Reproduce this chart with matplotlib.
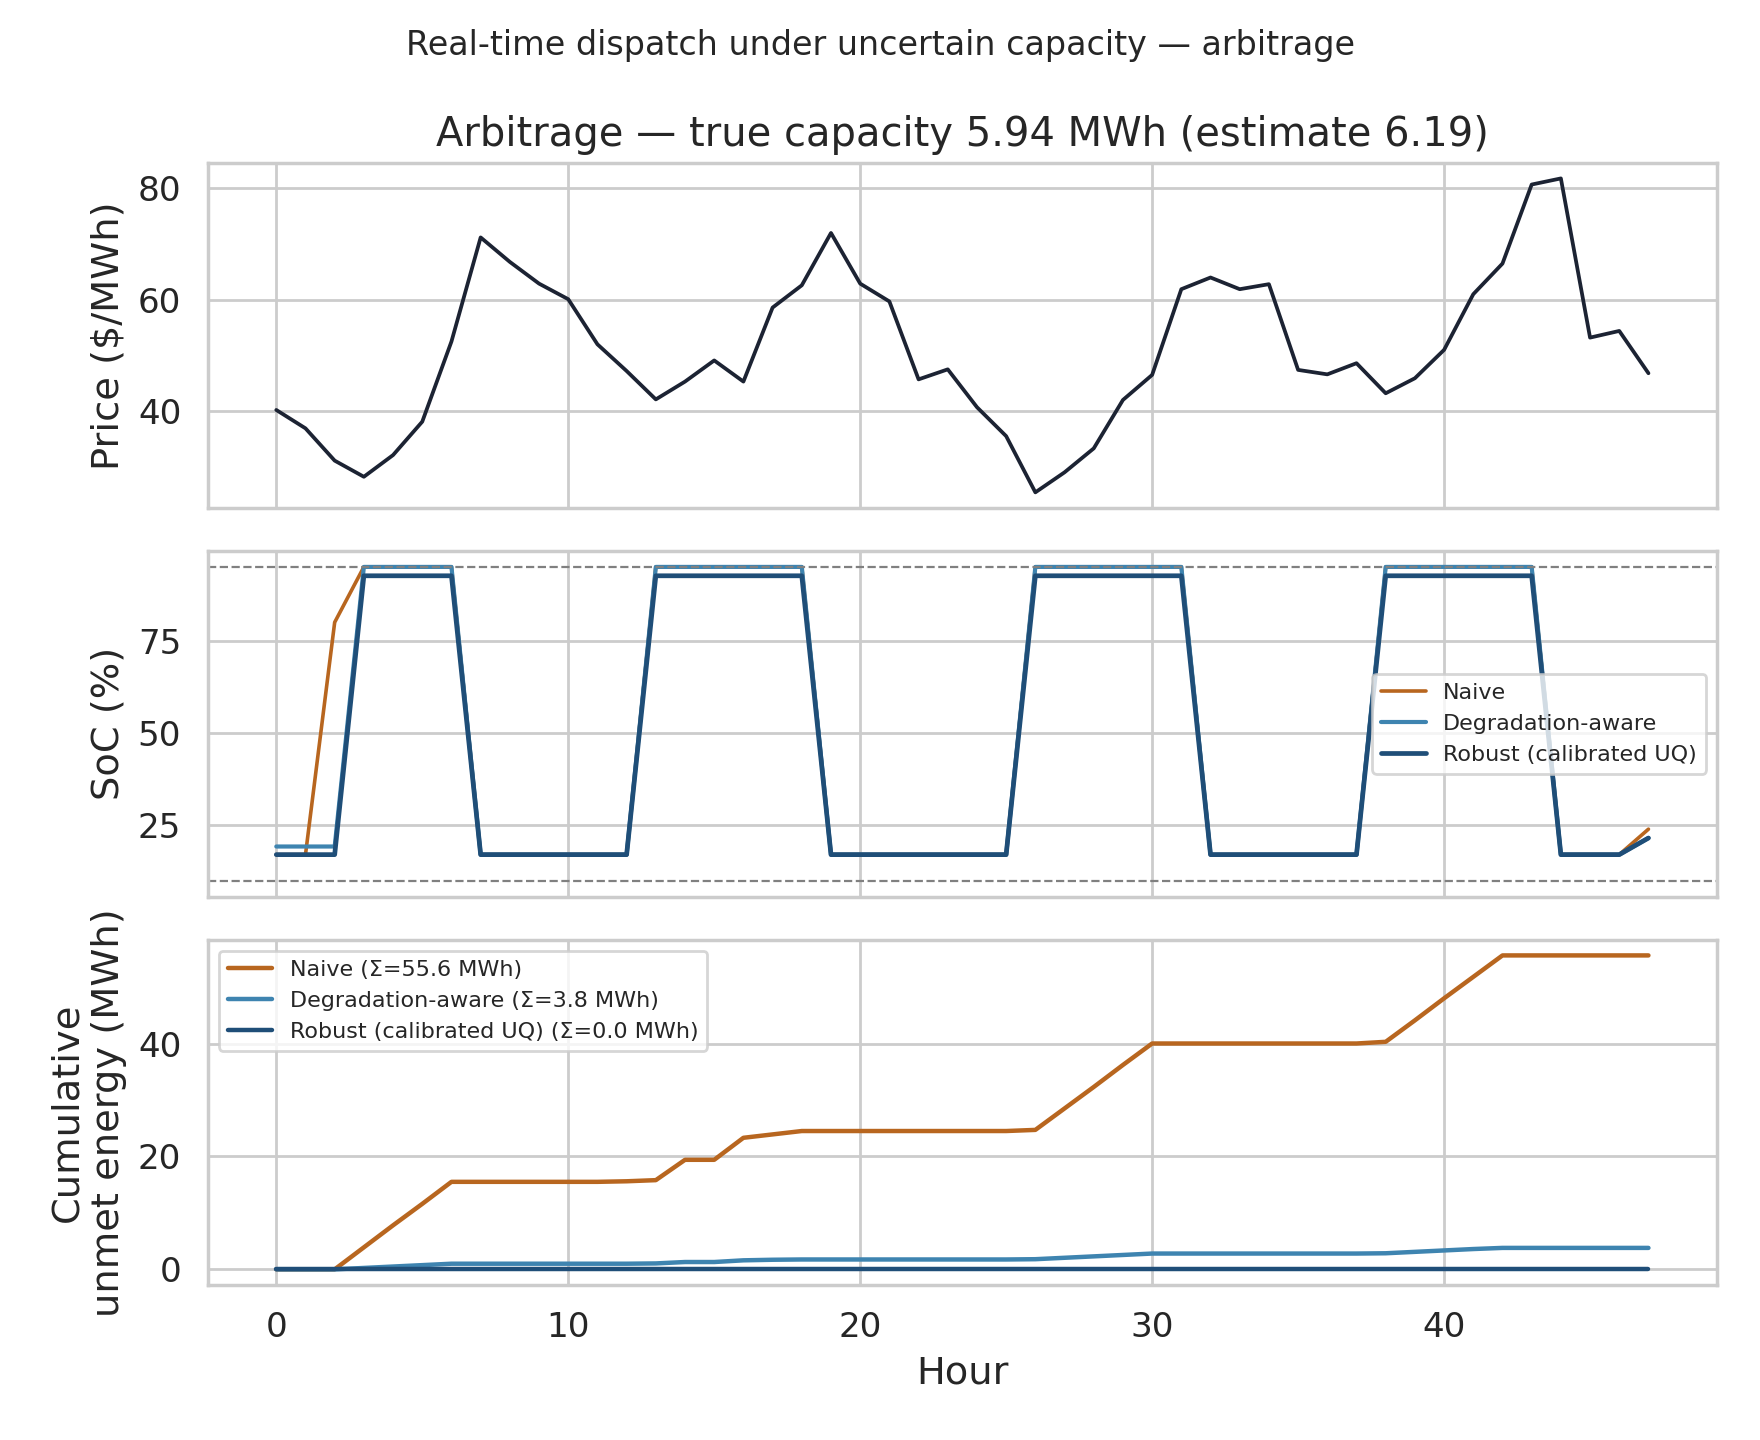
import numpy as np
import matplotlib
matplotlib.use("Agg")
import matplotlib.pyplot as plt
from matplotlib.ticker import MultipleLocator
import seaborn as sns

hours = list(range(48))

price = [40.2, 36.9, 31.1, 28.2, 32.1, 38.1, 52.5, 71.2, 66.8, 62.9,
         60.1, 52.0, 47.2, 42.1, 45.3, 49.1, 45.3, 58.6, 62.6, 72.0,
         62.9, 59.7, 45.7, 47.5, 40.7, 35.5, 25.4, 29.0, 33.3, 42.0,
         46.5, 61.9, 64.0, 61.9, 62.8, 47.4, 46.6, 48.6, 43.2, 45.9,
         51.0, 61.0, 66.5, 80.7, 81.8, 53.2, 54.4, 46.8]

soc_naive = [17.1, 17.1, 80.0, 95.0, 95.0, 95.0, 95.0, 17.1, 17.1, 17.1,
             17.1, 17.1, 17.1, 95.0, 95.0, 95.0, 95.0, 95.0, 95.0, 17.1,
             17.1, 17.1, 17.1, 17.1, 17.1, 17.1, 95.0, 95.0, 95.0, 95.0,
             95.0, 95.0, 17.1, 17.1, 17.1, 17.1, 17.1, 17.1, 95.0, 95.0,
             95.0, 95.0, 95.0, 95.0, 17.1, 17.1, 17.1, 24.0]
soc_degr = [19.3, 19.3, 19.3, 95.0, 95.0, 95.0, 95.0, 17.1, 17.1, 17.1,
            17.1, 17.1, 17.1, 95.0, 95.0, 95.0, 95.0, 95.0, 95.0, 17.1,
            17.1, 17.1, 17.1, 17.1, 17.1, 17.1, 95.0, 95.0, 95.0, 95.0,
            95.0, 95.0, 17.1, 17.1, 17.1, 17.1, 17.1, 17.1, 95.0, 95.0,
            95.0, 95.0, 95.0, 95.0, 17.1, 17.1, 17.1, 21.6]
soc_robust = [17.1, 17.1, 17.1, 92.6, 92.6, 92.6, 92.6, 17.1, 17.1, 17.1,
              17.1, 17.1, 17.1, 92.6, 92.6, 92.6, 92.6, 92.6, 92.6, 17.1,
              17.1, 17.1, 17.1, 17.1, 17.1, 17.1, 92.6, 92.6, 92.6, 92.6,
              92.6, 92.6, 17.1, 17.1, 17.1, 17.1, 17.1, 17.1, 92.6, 92.6,
              92.6, 92.6, 92.6, 92.6, 17.1, 17.1, 17.1, 21.6]
soc_min, soc_max = 10, 95

unmet_naive = [0.0, 0.0, 0.0, 3.9, 7.8, 11.6, 15.5, 15.5, 15.5, 15.5,
               15.5, 15.5, 15.6, 15.8, 19.4, 19.4, 23.3, 23.9, 24.5, 24.5,
               24.5, 24.5, 24.5, 24.5, 24.5, 24.5, 24.7, 28.5, 32.3, 36.2,
               40.0, 40.0, 40.0, 40.0, 40.0, 40.0, 40.0, 40.0, 40.3, 44.1,
               48.0, 51.8, 55.6, 55.6, 55.6, 55.6, 55.6, 55.6]
unmet_degr = [0.0, 0.0, 0.0, 0.25, 0.5, 0.75, 1.0, 1.0, 1.0, 1.0,
              1.0, 1.0, 1.0, 1.05, 1.3, 1.3, 1.6, 1.7, 1.75, 1.75,
              1.75, 1.75, 1.75, 1.75, 1.75, 1.75, 1.8, 2.05, 2.3, 2.55,
              2.8, 2.8, 2.8, 2.8, 2.8, 2.8, 2.8, 2.8, 2.85, 3.1,
              3.35, 3.6, 3.8, 3.8, 3.8, 3.8, 3.8, 3.8]
unmet_robust = [0.0] * 48

names = ["Naive", "Degradation-aware", "Robust (calibrated UQ)"]
totals = [55.6, 3.8, 0.0]
colors = ["#b8661f", "#3e84b0", "#1f4e78"]

sns.set_theme(style="whitegrid")
plt.rcParams["font.family"] = ["DejaVu Sans"]

fig, axes = plt.subplots(3, 1, figsize=(8.8, 7.2), dpi=200, sharex=True)
fig.subplots_adjust(left=0.118, right=0.9756, top=0.887, bottom=0.1076, hspace=0.125)
fig.suptitle("Real-time dispatch under uncertain capacity \u2014 arbitrage", fontsize=12, y=0.98)

ax = axes[0]
ax.plot(hours, price, color="#1c2333", lw=1.35)
ax.set_ylabel("Price ($/MWh)", fontsize=13.8)
ax.set_title("Arbitrage \u2014 true capacity 5.94 MWh (estimate 6.19)", fontsize=14.4)

ax = axes[1]
for vals, name, c, lw in zip([soc_naive, soc_degr, soc_robust], names, colors, [1.3, 1.5, 1.7]):
    ax.plot(hours, vals, color=c, lw=lw, label=name)
ax.axhline(soc_max, color="gray", ls="--", lw=0.8)
ax.axhline(soc_min, color="gray", ls="--", lw=0.8)
ax.yaxis.set_major_locator(MultipleLocator(25))
ax.set_ylabel("SoC (%)", fontsize=13.8)
ax.legend(loc="center right", fontsize=8.0)

ax = axes[2]
for vals, name, tot, c in zip([unmet_naive, unmet_degr, unmet_robust], names, totals, colors):
    ax.plot(hours, vals, color=c, lw=1.6, label="%s (\u03a3=%.1f MWh)" % (name, tot))
ax.set_ylabel("Cumulative\nunmet energy (MWh)", fontsize=13.8)
ax.set_xlabel("Hour", fontsize=13.8)
ax.legend(loc="upper left", fontsize=8.0)

for ax in axes:
    ax.tick_params(labelsize=12.3)

fig.savefig("out.png", dpi=200)
